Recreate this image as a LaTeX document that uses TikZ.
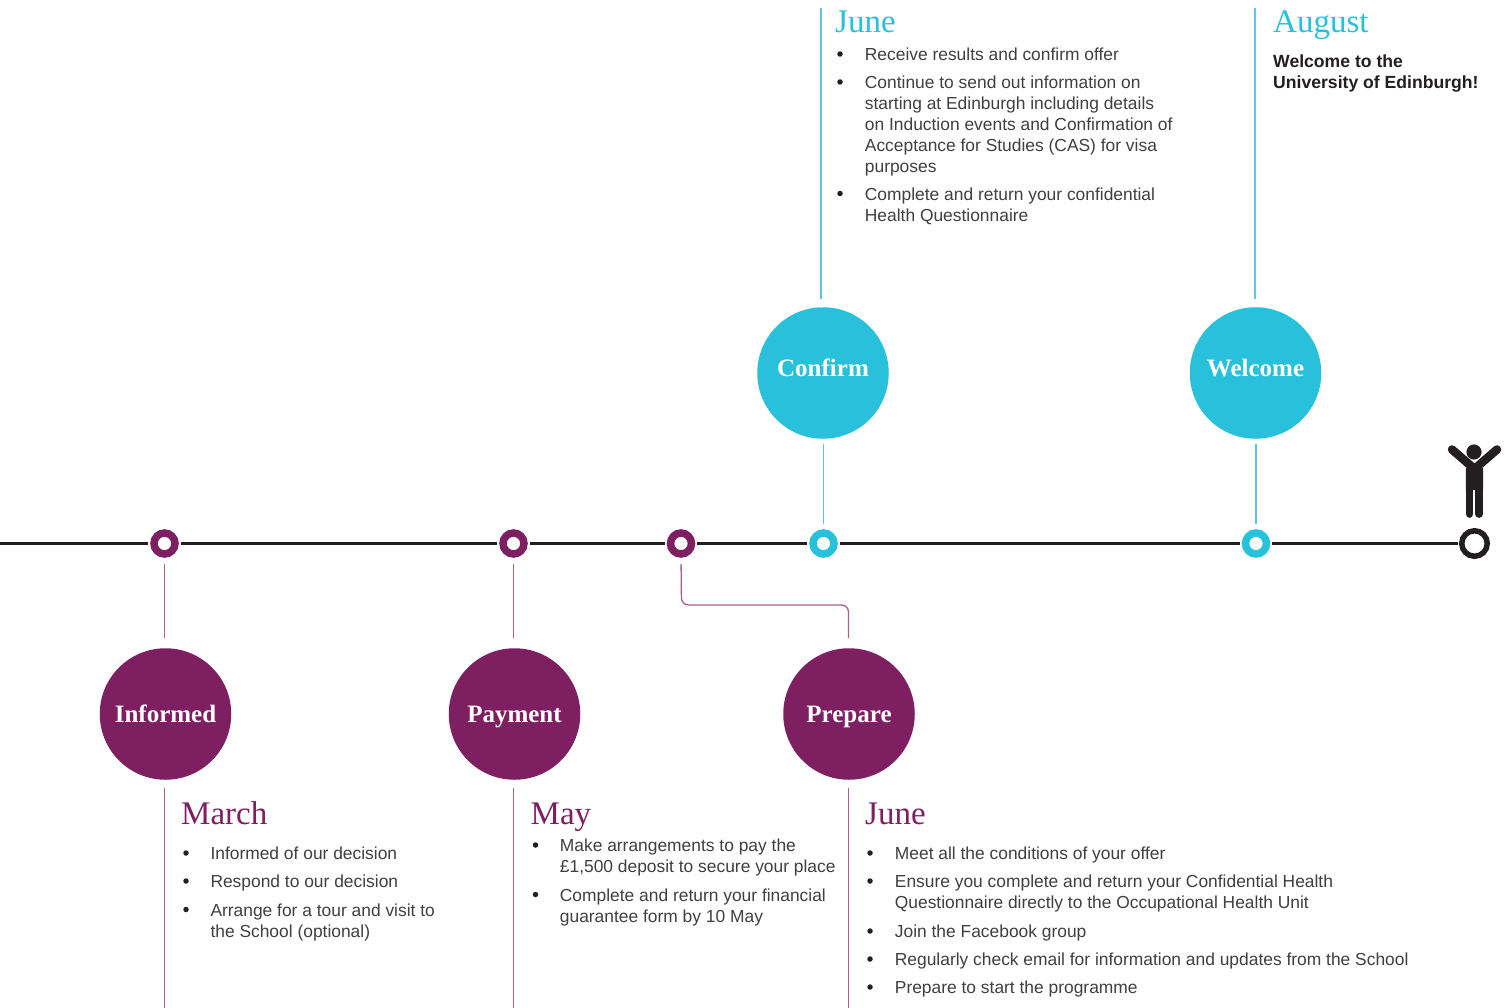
\documentclass[tikz,border=0pt]{standalone}
\usepackage{fontspec}
\setmainfont{Liberation Sans}
\newfontfamily\titlefont{Liberation Serif}
\definecolor{plum}{HTML}{7E1F61}
\definecolor{plumline}{HTML}{A9608F}
\definecolor{teal}{HTML}{29C0DB}
\definecolor{tealline}{HTML}{5CCBE2}
\definecolor{ink}{HTML}{231F20}
\definecolor{bodygrey}{HTML}{3F3F42}
\tikzset{
  bigcirc/.style={circle,minimum size=131.5pt,inner sep=0pt,text=white,font=\titlefont\bfseries\fontsize{25}{25}\selectfont},
  plumcirc/.style={bigcirc,fill=plum,text height=16pt,text depth=0pt},
  tealcirc/.style={bigcirc,fill=teal,text height=7pt,text depth=0pt},
  ring/.style={circle,draw=#1,line width=7.5pt,fill=white,minimum size=21pt,inner sep=0pt},
  axis/.style={draw=ink,line width=2.8pt},
  plumwire/.style={draw=plumline,line width=1.3pt},
  tealwire/.style={draw=tealline,line width=1.3pt},
  month/.style={anchor=base west,inner sep=0pt,font=\titlefont\fontsize{33}{33}\selectfont,text=#1},
  bodytext/.style={anchor=north west,inner sep=0pt,align=left,text=bodygrey,font=\fontsize{17.4}{20.8}\selectfont},
  boldtext/.style={anchor=north west,inner sep=0pt,align=left,text=ink,font=\bfseries\fontsize{17.6}{20.8}\selectfont},
  dotmark/.style={circle,fill=ink,inner sep=0pt,minimum size=5.5pt},
}
\begin{document}
\begin{tikzpicture}[x=1pt,y=-1pt]
\useasboundingbox (0,0) rectangle (1512,1008);
% rings on the axis
\node[ring=plum] (r1) at (164.5,543.5) {};
\node[ring=plum] (r2) at (513.5,543.5) {};
\node[ring=plum] (r3) at (681,543.5) {};
\node[ring=teal] (r4) at (823.5,543.5) {};
\node[ring=teal] (r5) at (1256,543.5) {};
\node[circle,draw=ink,line width=5.5pt,fill=white,minimum size=25.5pt,inner sep=0pt] (r6) at (1474.5,543.5) {};
% big circles
\node[plumcirc] (informed) at (165.5,714) {Informed};
\node[plumcirc] (payment) at (514.5,714) {Payment};
\node[plumcirc] (prepare) at (849,714) {Prepare};
\node[tealcirc] (confirm) at (823,373) {Confirm};
\node[tealcirc] (welcome) at (1255.5,373) {Welcome};
% axis
\coordinate (axisstart) at (0,543.5);
\draw[axis,shorten >=2pt] (axisstart) -- (r1);
\draw[axis,shorten >=2pt,shorten <=2pt] (r1) -- (r2);
\draw[axis,shorten >=2pt,shorten <=2pt] (r2) -- (r3);
\draw[axis,shorten >=2pt,shorten <=2pt] (r3) -- (r4);
\draw[axis,shorten >=2pt,shorten <=2pt] (r4) -- (r5);
\draw[axis,shorten >=1pt,shorten <=2pt] (r5) -- (r6);
% connectors
\draw[plumwire,shorten <=6pt,shorten >=10pt] (r1.south) -- (r1.south |- informed.north);
\draw[plumwire,shorten <=6pt,shorten >=10pt] (r2.south) -- (r2.south |- payment.north);
\draw[plumwire,shorten <=6pt,shorten >=10pt,rounded corners=7pt] (r3.south) -- (681.5,605) -- (848.5,605) -- (848.5,648);
\draw[tealwire,shorten <=5pt,shorten >=5pt] (r4.north) -- (r4.north |- confirm.south);
\draw[tealwire,shorten <=5pt,shorten >=5pt] (r5.north) -- (r5.north |- welcome.south);
\coordinate (b1) at (164.5,788); \coordinate (b1e) at (164.5,1008);
\coordinate (b2) at (513.5,788); \coordinate (b2e) at (513.5,1008);
\coordinate (b3) at (848.5,788); \coordinate (b3e) at (848.5,1008);
\coordinate (t1) at (821,299); \coordinate (t1e) at (821,8);
\coordinate (t2) at (1255,299); \coordinate (t2e) at (1255,8);
\draw[plumwire] (b1) -- (b1e);
\draw[plumwire] (b2) -- (b2e);
\draw[plumwire] (b3) -- (b3e);
\draw[tealwire] (t1) -- (t1e);
\draw[tealwire] (t2) -- (t2e);
% figure
\fill[ink] (1474,452) circle (7.6);
\draw[ink,line width=8.5pt,line cap=round,line join=round] (1452,449.5) -- (1474.5,469) -- (1497,449.5);
\fill[ink] (1465.8,468) -- (1474,470) -- (1483.2,468) -- (1483.2,490) -- (1465.8,490) -- cycle;
\draw[ink,line width=7.7pt,line cap=round] (1469.6,485) -- (1469.6,514);
\draw[ink,line width=7.7pt,line cap=round] (1479.3,485) -- (1479.3,514);
% top texts
\node[month=teal] (mJ1) at (835,33) {June};
\node[month=teal] (mAu) at (1273,33) {August};
\node[dotmark] (d1) at (840,54) {};
\node[bodytext] (t11) at (864.7,48) {Receive results and confirm offer};
\node[dotmark] (d2) at (840,82) {};
\node[bodytext] (t12) at (864.7,76) {Continue to send out information on\\starting at Edinburgh including details\\on Induction events and Confirmation of\\Acceptance for Studies (CAS) for visa\\purposes};
\node[dotmark] (d3) at (840,193.5) {};
\node[bodytext] (t13) at (864.7,188) {Complete and return your confidential\\Health Questionnaire};
\node[boldtext] (wel) at (1273,54.5) {Welcome to the\\University of Edinburgh!};
% bottom: March
\node[month=plum] (mMar) at (181,824) {March};
\node[dotmark] (d4) at (186,853) {};
\node[bodytext] (t41) at (210.3,847) {Informed of our decision};
\node[dotmark] (d5) at (186,881) {};
\node[bodytext] (t42) at (210.3,875) {Respond to our decision};
\node[dotmark] (d6) at (186,909.5) {};
\node[bodytext] (t43) at (210.3,904) {Arrange for a tour and visit to\\the School (optional)};
% bottom: May
\node[month=plum] (mMay) at (530.5,824) {May};
\node[dotmark] (d7) at (535.5,845) {};
\node[bodytext] (t51) at (559.7,839) {Make arrangements to pay the\\£1,500 deposit to secure your place};
\node[dotmark] (d8) at (535.5,894.5) {};
\node[bodytext] (t52) at (559.7,889) {Complete and return your financial\\guarantee form by 10 May};
% bottom: June
\node[month=plum] (mJ2) at (865,824) {June};
\node[dotmark] (d9) at (870,853) {};
\node[bodytext] (t61) at (894.7,847) {Meet all the conditions of your offer};
\node[dotmark] (d10) at (870,881) {};
\node[bodytext] (t62) at (894.7,875) {Ensure you complete and return your Confidential Health\\Questionnaire directly to the Occupational Health Unit};
\node[dotmark] (d11) at (870,931) {};
\node[bodytext] (t63) at (894.7,925) {Join the Facebook group};
\node[dotmark] (d12) at (870,959) {};
\node[bodytext] (t64) at (894.7,953) {Regularly check email for information and updates from the School};
\node[dotmark] (d13) at (870,987) {};
\node[bodytext] (t65) at (894.7,981) {Prepare to start the programme};
\end{tikzpicture}
\end{document}
